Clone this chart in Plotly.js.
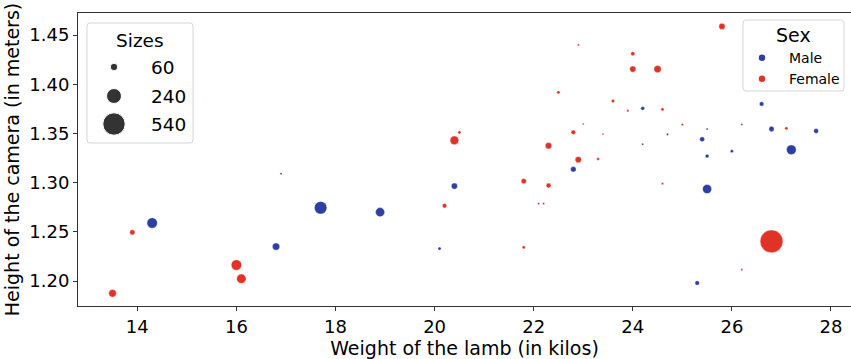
<!DOCTYPE html>
<html><head><meta charset="utf-8">
<script src="https://cdn.plot.ly/plotly-3.0.1.min.js"></script>
<style>html,body{margin:0;padding:0;background:#fff}</style>
</head><body><div id="chart" style="width:851px;height:359px"></div>
<script>
// ---- data ----
const maleWeight = [16.9, 17.7, 14.3, 16.8, 22.8, 20.4, 18.9, 20.1, 24.2, 26.6, 24.7, 25.5, 26.2, 26.8, 27.7, 25.4, 24.2, 27.2, 26.0, 25.5, 25.5, 25.3];
const maleHeight = [1.309, 1.2745, 1.259, 1.235, 1.3135, 1.2965, 1.270, 1.233, 1.3755, 1.380, 1.349, 1.3545, 1.359, 1.3545, 1.3524, 1.344, 1.339, 1.3334, 1.332, 1.327, 1.2935, 1.198];
const maleSize = [5, 170, 118, 58, 33, 42, 89, 11, 16, 22, 5, 5, 4, 30, 26, 26, 5, 102, 11, 16, 89, 22];

const femaleWeight = [13.9, 16.0, 16.1, 13.5, 22.9, 22.5, 23.0, 22.8, 20.5, 20.4, 22.3, 22.9, 21.8, 22.3, 20.2, 22.1, 22.2, 21.8, 25.8, 24.0, 24.0, 24.5, 23.6, 23.9, 24.6, 25.0, 23.4, 27.1, 23.3, 24.6, 26.8, 26.2];
const femaleHeight = [1.2495, 1.2163, 1.2023, 1.1875, 1.440, 1.3918, 1.3596, 1.3511, 1.3511, 1.343, 1.3375, 1.3233, 1.3016, 1.297, 1.2765, 1.2786, 1.2786, 1.2342, 1.4588, 1.431, 1.4154, 1.4154, 1.383, 1.373, 1.3745, 1.359, 1.3494, 1.3552, 1.324, 1.299, 1.2403, 1.2115];
const femaleSize = [30, 118, 96, 63, 5, 11, 4, 22, 11, 81, 47, 42, 30, 26, 22, 5, 5, 11, 42, 19, 42, 58, 13, 6, 11, 6, 4, 11, 9, 6, 556, 5];

const sexLabels = ['Male', 'Female'];
const sizeLegendValues = [60, 240, 540];
const xTickVals = [14, 16, 18, 20, 22, 24, 26, 28];
const yTickVals = [1.20, 1.25, 1.30, 1.35, 1.40, 1.45];

// ---- style ----
const BLUE = '#2e3fa3', RED = '#e03325', GREY = '#333333';
const FONT = 'DejaVu Sans, sans-serif';
const SIZEREF = 2.15;

function pts(x, y, s, color) {
  return {type: 'scatter', mode: 'markers', x: x, y: y, showlegend: false, hoverinfo: 'skip',
    marker: {size: s, sizemode: 'area', sizeref: SIZEREF, color: color, opacity: 1,
             line: {width: 0.4, color: 'white'}}};
}

const traces = [
  pts(maleWeight, maleHeight, maleSize, BLUE),
  pts(femaleWeight, femaleHeight, femaleSize, RED)
];

// legends drawn on an overlay axis measured in pixels
const sizeRowsY = [67, 96, 124];
traces.push({type: 'scatter', mode: 'markers', xaxis: 'x2', yaxis: 'y2', showlegend: false, hoverinfo: 'skip',
  x: sizeLegendValues.map(() => 114), y: sizeRowsY,
  marker: {size: sizeLegendValues, sizemode: 'area', sizeref: SIZEREF, color: GREY, opacity: 1}});
const sexRowsY = [57.7, 78.7];
traces.push({type: 'scatter', mode: 'markers', xaxis: 'x2', yaxis: 'y2', showlegend: false, hoverinfo: 'skip',
  x: sexLabels.map(() => 762), y: sexRowsY,
  marker: {size: 6.5, color: [BLUE, RED], opacity: 1}});

function roundRect(x0, y0, x1, y1, r) {
  return `M${x0 + r},${y0} L${x1 - r},${y0} Q${x1},${y0} ${x1},${y0 + r} L${x1},${y1 - r} Q${x1},${y1} ${x1 - r},${y1} L${x0 + r},${y1} Q${x0},${y1} ${x0},${y1 - r} L${x0},${y0 + r} Q${x0},${y0} ${x0 + r},${y0} Z`;
}

const annotations = [];
function txt(x, y, t, size, xanchor) {
  annotations.push({xref: 'x2', yref: 'y2', x: x, y: y, text: t, showarrow: false,
    xanchor: xanchor, yanchor: 'middle', font: {family: FONT, size: size, color: '#000'}});
}
txt(140, 40, 'Sizes', 18.5, 'center');
sizeLegendValues.forEach((v, i) => txt(149, sizeRowsY[i], String(v), 18.5, 'left'));
txt(793, 35, 'Sex', 19, 'center');
sexLabels.forEach((v, i) => txt(787, sexRowsY[i], v, 14, 'left'));

const axisCommon = {showgrid: false, zeroline: false, ticks: 'outside', ticklen: 4, tickwidth: 1,
  tickcolor: '#333', showline: true, linecolor: '#333', linewidth: 1,
  tickfont: {family: FONT, size: 18, color: '#000'}};

const layout = {
  width: 851, height: 359,
  margin: {l: 78, r: 0, t: 13, b: 53},
  paper_bgcolor: '#fff', plot_bgcolor: '#fff',
  font: {family: FONT, color: '#000'},
  showlegend: false,
  xaxis: Object.assign({}, axisCommon, {range: [12.803, 28.404], tickvals: xTickVals, mirror: true,
    title: {text: 'Weight of the lamb (in kilos)', font: {family: FONT, size: 19, color: '#000'}, standoff: 4}}),
  yaxis: Object.assign({}, axisCommon, {range: [1.1746, 1.4724], tickvals: yTickVals, tickformat: '.2f',
    title: {text: 'Height of the camera (in meters)', font: {family: FONT, size: 19, color: '#000'}, standoff: 4}}),
  xaxis2: {overlaying: 'x', range: [78, 851], visible: false, fixedrange: true},
  yaxis2: {overlaying: 'y', range: [306, 13], visible: false, fixedrange: true},
  shapes: [
    {type: 'path', xref: 'x2', yref: 'y2', layer: 'below', path: roundRect(87, 23, 193, 143, 3),
     line: {color: '#d6d6d6', width: 1}, fillcolor: 'rgba(255,255,255,0.8)'},
    {type: 'path', xref: 'x2', yref: 'y2', layer: 'below', path: roundRect(743, 20, 844, 91, 3),
     line: {color: '#d6d6d6', width: 1}, fillcolor: 'rgba(255,255,255,0.8)'}
  ],
  annotations: annotations
};

Plotly.newPlot('chart', traces, layout, {displayModeBar: false, staticPlot: true});
</script></body></html>
